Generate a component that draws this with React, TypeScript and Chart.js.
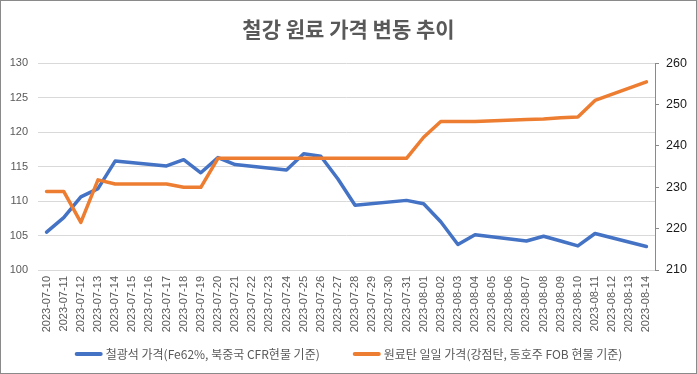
import React, { useEffect, useRef } from "react";
import { Chart, registerables } from "chart.js";

Chart.register(...registerables);

const TITLE = "철강 원료 가격 변동 추이";

const dates = [
  "2023-07-10", "2023-07-11", "2023-07-12", "2023-07-13", "2023-07-14", "2023-07-15",
  "2023-07-16", "2023-07-17", "2023-07-18", "2023-07-19", "2023-07-20", "2023-07-21",
  "2023-07-22", "2023-07-23", "2023-07-24", "2023-07-25", "2023-07-26", "2023-07-27",
  "2023-07-28", "2023-07-29", "2023-07-30", "2023-07-31", "2023-08-01", "2023-08-02",
  "2023-08-03", "2023-08-04", "2023-08-05", "2023-08-06", "2023-08-07", "2023-08-08",
  "2023-08-09", "2023-08-10", "2023-08-11", "2023-08-12", "2023-08-13", "2023-08-14",
];

const ironOreLabel = "철광석 가격(Fe62%, 북중국 CFR현물 기준)";
const ironOre = [
  105.5, 107.6, 110.6, 111.8, 115.8, null,
  null, 115.1, 116.0, 114.1, 116.3, 115.3,
  null, null, 114.5, 116.85, 116.5, 113.2,
  109.4, null, null, 110.1, 109.6, 107.0,
  103.7, 105.1, null, null, 104.2, 104.9,
  104.2, 103.5, 105.3, null, null, 103.4,
];

const coalLabel = "원료탄 일일 가격(강점탄, 동호주 FOB 현물 기준)";
const coal = [
  229.0, 229.0, 221.5, 231.8, 230.8, null,
  null, 230.8, 230.0, 230.0, 237.0, 237.0,
  null, null, 237.0, 237.0, 237.0, 237.0,
  237.0, null, null, 237.0, 242.1, 245.9,
  245.9, 245.9, null, null, 246.4, 246.5,
  246.8, 247.0, 251.0, null, null, 255.5,
];

const ironOreColor = "#4472C4";
const coalColor = "#ED7D31";

const leftMin = 100;
const leftMax = 130;
const leftStep = 5;
const rightMin = 210;
const rightMax = 260;
const rightStep = 10;

const KR = '"Noto Sans CJK KR", "Noto Sans", sans-serif';
const NUM = '"Liberation Sans", Arial, sans-serif';

export default function App() {
  const ref = useRef<HTMLCanvasElement | null>(null);

  useEffect(() => {
    document.body.style.margin = "0";
    const canvas = ref.current;
    if (!canvas) return;

    const framePlugin = {
      id: "frame",
      beforeDraw(chart: any) {
        const c = chart.ctx;
        c.save();
        c.fillStyle = "#ffffff";
        c.fillRect(0, 0, chart.width, chart.height);
        c.restore();
      },
      afterDraw(chart: any) {
        const c = chart.ctx;
        c.save();
        c.strokeStyle = "#8a8a8a";
        c.lineWidth = 1;
        c.strokeRect(0.5, 0.5, chart.width - 1, chart.height - 1);
        c.restore();
      },
    };

    const legendPlugin = {
      id: "customLegend",
      afterDraw(chart: any) {
        const c = chart.ctx;
        const markerW = 28;
        const textGap = 3;
        const itemGap = 33;
        const yMid = 354;
        c.save();
        c.font = `12px ${KR}`;
        c.textBaseline = "middle";
        c.textAlign = "left";
        const items = chart.data.datasets.map((d: any) => ({
          label: d.label as string,
          color: d.borderColor as string,
          w: c.measureText(d.label).width,
        }));
        const total =
          items.reduce((s: number, it: any) => s + markerW + textGap + it.w, 0) +
          itemGap * (items.length - 1);
        let x = (chart.width - total) / 2;
        items.forEach((it: any) => {
          c.strokeStyle = it.color;
          c.lineWidth = 4;
          c.lineCap = "round";
          c.beginPath();
          c.moveTo(x + 2, yMid);
          c.lineTo(x + markerW - 2, yMid);
          c.stroke();
          c.fillStyle = "#595959";
          c.fillText(it.label, x + markerW + textGap, yMid);
          x += markerW + textGap + it.w + itemGap;
        });
        c.restore();
      },
    };

    const chart = new Chart(canvas, {
      type: "line",
      data: {
        labels: dates,
        datasets: [
          {
            label: ironOreLabel,
            data: ironOre,
            yAxisID: "y",
            borderColor: ironOreColor,
            backgroundColor: ironOreColor,
            borderWidth: 3.5,
            pointRadius: 0,
            tension: 0,
            spanGaps: true,
            borderCapStyle: "round",
            borderJoinStyle: "round",
            order: 1,
          },
          {
            label: coalLabel,
            data: coal,
            yAxisID: "y1",
            borderColor: coalColor,
            backgroundColor: coalColor,
            borderWidth: 3.5,
            pointRadius: 0,
            tension: 0,
            spanGaps: true,
            borderCapStyle: "round",
            borderJoinStyle: "round",
            order: 0,
          },
        ],
      },
      options: {
        animation: false,
        responsive: false,
        layout: { padding: { left: 0, right: 0, top: 0, bottom: 38 } },
        plugins: {
          title: {
            display: true,
            text: TITLE,
            color: "#595959",
            font: { family: KR, size: 21, weight: "bold" },
            padding: { top: 16, bottom: 22 },
          },
          legend: { display: false },
          tooltip: { enabled: false },
        },
        scales: {
          x: {
            offset: true,
            grid: { display: false, drawTicks: false },
            border: { display: true, color: "#d9d9d9" },
            ticks: {
              autoSkip: false,
              minRotation: 90,
              maxRotation: 90,
              color: "#595959",
              font: { family: NUM, size: 11 },
              padding: 6,
            },
            afterFit: (s: any) => {
              s.height = 66;
            },
          },
          y: {
            position: "left",
            min: leftMin,
            max: leftMax,
            ticks: {
              stepSize: leftStep,
              color: "#595959",
              font: { family: NUM, size: 11 },
              padding: 10,
            },
            grid: { color: "#d9d9d9", drawTicks: false },
            border: { display: false },
            afterFit: (s: any) => {
              s.width = 38;
            },
          },
          y1: {
            position: "right",
            min: rightMin,
            max: rightMax,
            ticks: {
              stepSize: rightStep,
              color: "#1a1a1a",
              font: { family: NUM, size: 12.5 },
              padding: 7,
            },
            grid: { drawOnChartArea: false, color: "#8a8a8a", tickLength: 4 },
            border: { display: true, color: "#8a8a8a" },
            afterFit: (s: any) => {
              s.width = 42;
            },
          },
        },
      },
      plugins: [framePlugin, legendPlugin],
    });

    return () => {
      chart.destroy();
    };
  }, []);

  return (
    <div style={{ width: 697, height: 374 }}>
      <canvas ref={ref} width={697} height={374} style={{ width: 697, height: 374, display: "block" }} />
    </div>
  );
}
